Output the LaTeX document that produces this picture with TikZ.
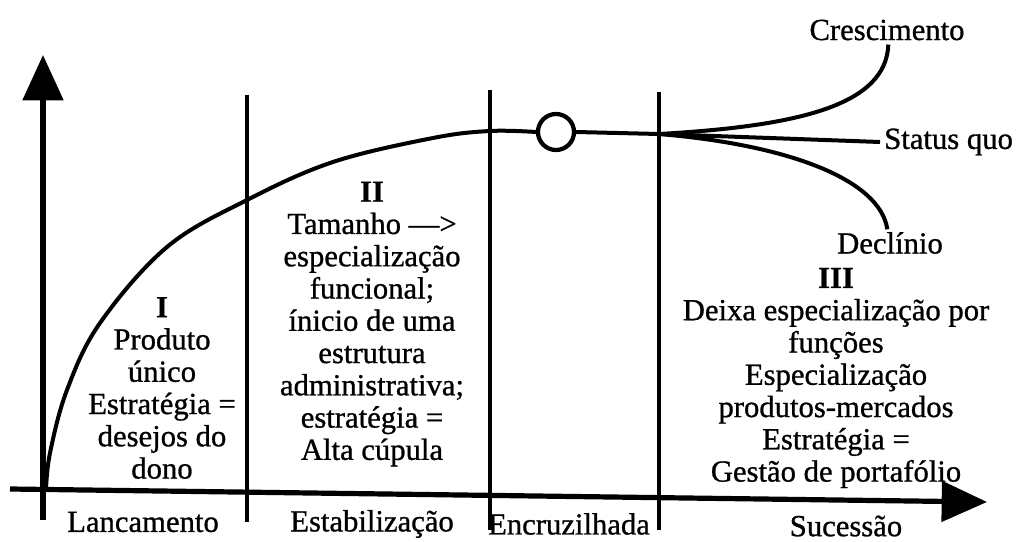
\documentclass[tikz,border=0pt]{standalone}
\usepackage{fontspec}
\setmainfont{Liberation Serif}[UprightFeatures={FakeBold=0.9},BoldFeatures={FakeBold=0.6}]
\usetikzlibrary{arrows.meta}
\begin{document}
\begin{tikzpicture}[x=0.75pt,y=-0.75pt,
  txt/.style={inner sep=0pt, align=center, font=\fontsize{23}{24.2}\selectfont},
  axisline/.style={line width=3.9pt, -{Triangle[length=34pt,width=30pt]}},
  sepline/.style={line width=2.6pt},
  crv/.style={line width=3pt}]
\useasboundingbox (0,0) rectangle (1024,542);
% axes
\coordinate (O1) at (43,520);
\coordinate (Ytip) at (43,55);
\coordinate (X0) at (10,489);
\coordinate (Xtip) at (987,502);
\draw[axisline] (O1) -- (Ytip);
\draw[axisline] (X0) -- (Xtip);
% separators
\coordinate (s1t) at (247,95);  \coordinate (s1b) at (247,522);
\coordinate (s2t) at (490,90);  \coordinate (s2b) at (490,530);
\coordinate (s3t) at (659,92);  \coordinate (s3b) at (659,530);
\draw[sepline] (s1t) -- (s1b);
\draw[sepline] (s2t) -- (s2b);
\draw[sepline] (s3t) -- (s3b);
% growth curve
\node[circle, draw, line width=3.2pt, minimum size=27pt, inner sep=0pt] (c) at (556,132) {};
\draw[crv] plot[smooth, tension=0.6] coordinates {(46,490) (50,453) (67,390) (100,323) (167,247) (247,200) (333,162) (433,138) (490,131) (c.west)};
\coordinate (J) at (659,134);
\draw[crv] (c.east) -- (J);
% branches
\node[txt] (cres) at (887,30) {Crescimento};
\node[txt, anchor=west] (sq) at (884,142) {Status quo};
\node[txt] (dec) at (890,243) {Declínio};
\draw[crv] (J) .. controls (800,126) and (886,105) .. ([xshift=1pt,yshift=-3pt]cres.south);
\draw[crv] (J) -- ([xshift=-3pt]sq.west);
\draw[crv] (J) .. controls (790,145) and (880,180) .. ([xshift=-2pt,yshift=2pt]dec.north);
% section texts
\node[txt] (t1) at (162,388) {\textbf{I}\\Produto\\único\\Estratégia =\\desejos do\\dono};
\node[txt] (t2) at (372,324) {\textbf{II}\\Tamanho —>\\especialização\\funcional;\\ínicio de uma\\estrutura\\administrativa;\\estratégia =\\Alta cúpula};
\node[txt] (t3) at (836,378) {\textbf{III}\\Deixa especialização por\\funções\\Especialização\\produtos-mercados\\Estratégia =\\Gestão de portafólio};
% phase labels
\node[txt] (l1) at (143,522) {Lancamento};
\node[txt] (l2) at (372,524) {Estabilização};
\node[txt] (l3) at (569,524) {Encruzilhada};
\node[txt] (l4) at (846,526) {Sucessão};
\end{tikzpicture}
\end{document}
